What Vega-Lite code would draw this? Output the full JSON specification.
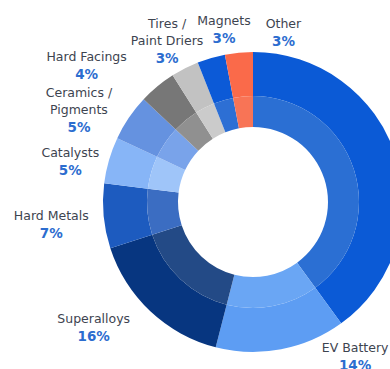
{
  "$schema": "https://vega.github.io/schema/vega-lite/v6.json",
  "autosize": "none",
  "width": 506,
  "height": 404,
  "padding": {"left": 0, "top": 0, "right": -116, "bottom": -35},
  "background": "#ffffff",
  "config": {"view": {"stroke": null}},
  "data": {"values": [
    {"category": "Unlabelled", "line1": "", "label": "", "share": 0.40, "rank": 1},
    {"category": "EV Battery", "line1": "", "label": "EV Battery", "share": 0.14, "rank": 2},
    {"category": "Superalloys", "line1": "", "label": "Superalloys", "share": 0.16, "rank": 3},
    {"category": "Hard Metals", "line1": "", "label": "Hard Metals", "share": 0.07, "rank": 4},
    {"category": "Catalysts", "line1": "", "label": "Catalysts", "share": 0.05, "rank": 5},
    {"category": "Ceramics / Pigments", "line1": "Ceramics /", "label": "Pigments", "share": 0.05, "rank": 6},
    {"category": "Hard Facings", "line1": "", "label": "Hard Facings", "share": 0.04, "rank": 7},
    {"category": "Tires / Paint Driers", "line1": "Tires /", "label": "Paint Driers", "share": 0.03, "rank": 8},
    {"category": "Magnets", "line1": "", "label": "Magnets", "share": 0.03, "rank": 9},
    {"category": "Other", "line1": "", "label": "Other", "share": 0.03, "rank": 10}
  ]},
  "layer": [
    {
      "mark": {"type": "arc", "innerRadius": 106, "outerRadius": 150},
      "encoding": {
        "theta": {"field": "share", "type": "quantitative", "stack": true, "scale": {"domain": [0, 1]}},
        "order": {"field": "rank", "type": "quantitative"},
        "color": {
          "field": "category", "type": "nominal", "legend": null,
          "scale": {
            "domain": ["Unlabelled", "EV Battery", "Superalloys", "Hard Metals", "Catalysts", "Ceramics / Pigments", "Hard Facings", "Tires / Paint Driers", "Magnets", "Other"],
            "range": ["#0b5ad6", "#5d9df3", "#073680", "#1d5bbf", "#87b5f7", "#6592e0", "#777777", "#c2c2c2", "#0c5ad7", "#fa6a4a"]
          }
        }
      }
    },
    {
      "mark": {"type": "arc", "innerRadius": 75, "outerRadius": 106},
      "encoding": {
        "theta": {"field": "share", "type": "quantitative", "stack": true, "scale": {"domain": [0, 1]}},
        "order": {"field": "rank", "type": "quantitative"},
        "color": {
          "field": "category", "type": "nominal", "legend": null,
          "scale": {
            "domain": ["Unlabelled", "EV Battery", "Superalloys", "Hard Metals", "Catalysts", "Ceramics / Pigments", "Hard Facings", "Tires / Paint Driers", "Magnets", "Other"],
            "range": ["#2b6fd3", "#6aa6f4", "#234a86", "#3b6dc2", "#9fc5f9", "#79a3ea", "#909090", "#cbcbcb", "#2d6fd4", "#f87456"]
          }
        }
      }
    },
    {
      "transform": [{"stack": "share", "groupby": [], "sort": [{"field": "rank", "order": "ascending"}], "as": ["s0", "s1"]}],
      "layer": [
        {
          "mark": {"type": "text", "baseline": "bottom", "align": "center", "font": "DejaVu Sans", "fontSize": 12.5, "color": "#3d4450", "dy": -19},
          "encoding": {
            "text": {"field": "line1", "type": "nominal"}
          }
        },
        {
          "mark": {"type": "text", "baseline": "bottom", "align": "center", "font": "DejaVu Sans", "fontSize": 12.5, "color": "#3d4450", "dy": -2},
          "encoding": {
            "text": {"field": "label", "type": "nominal"}
          }
        },
        {
          "mark": {"type": "text", "baseline": "top", "align": "center", "font": "DejaVu Sans", "fontSize": 13.5, "fontWeight": "bold", "color": "#2c6dcf", "dy": 2},
          "encoding": {
            "text": {"condition": {"test": "datum.label === ''", "value": ""}, "field": "share", "type": "quantitative", "format": ".0%"}
          }
        }
      ],
      "encoding": {
        "theta": {"field": "s1", "type": "quantitative", "stack": null,
          "scale": {"type": "linear", "domain": [0, 0.54, 0.70, 0.77, 0.82, 0.87, 0.91, 0.94, 1.0], "range": [0, 2.5604, 4.0439, 4.5989, 4.9270, 5.1592, 5.3983, 5.7701, 6.4612]}},
        "radius": {"field": "rank", "type": "quantitative", "stack": null,
          "scale": {"type": "linear", "domain": [2, 3, 4, 5, 6, 7, 8, 9, 10], "range": [186, 203, 203, 187, 193, 215, 175, 174, 172]}}
      }
    }
  ],
  "resolve": {"scale": {"theta": "independent", "color": "independent", "radius": "independent"}}
}
